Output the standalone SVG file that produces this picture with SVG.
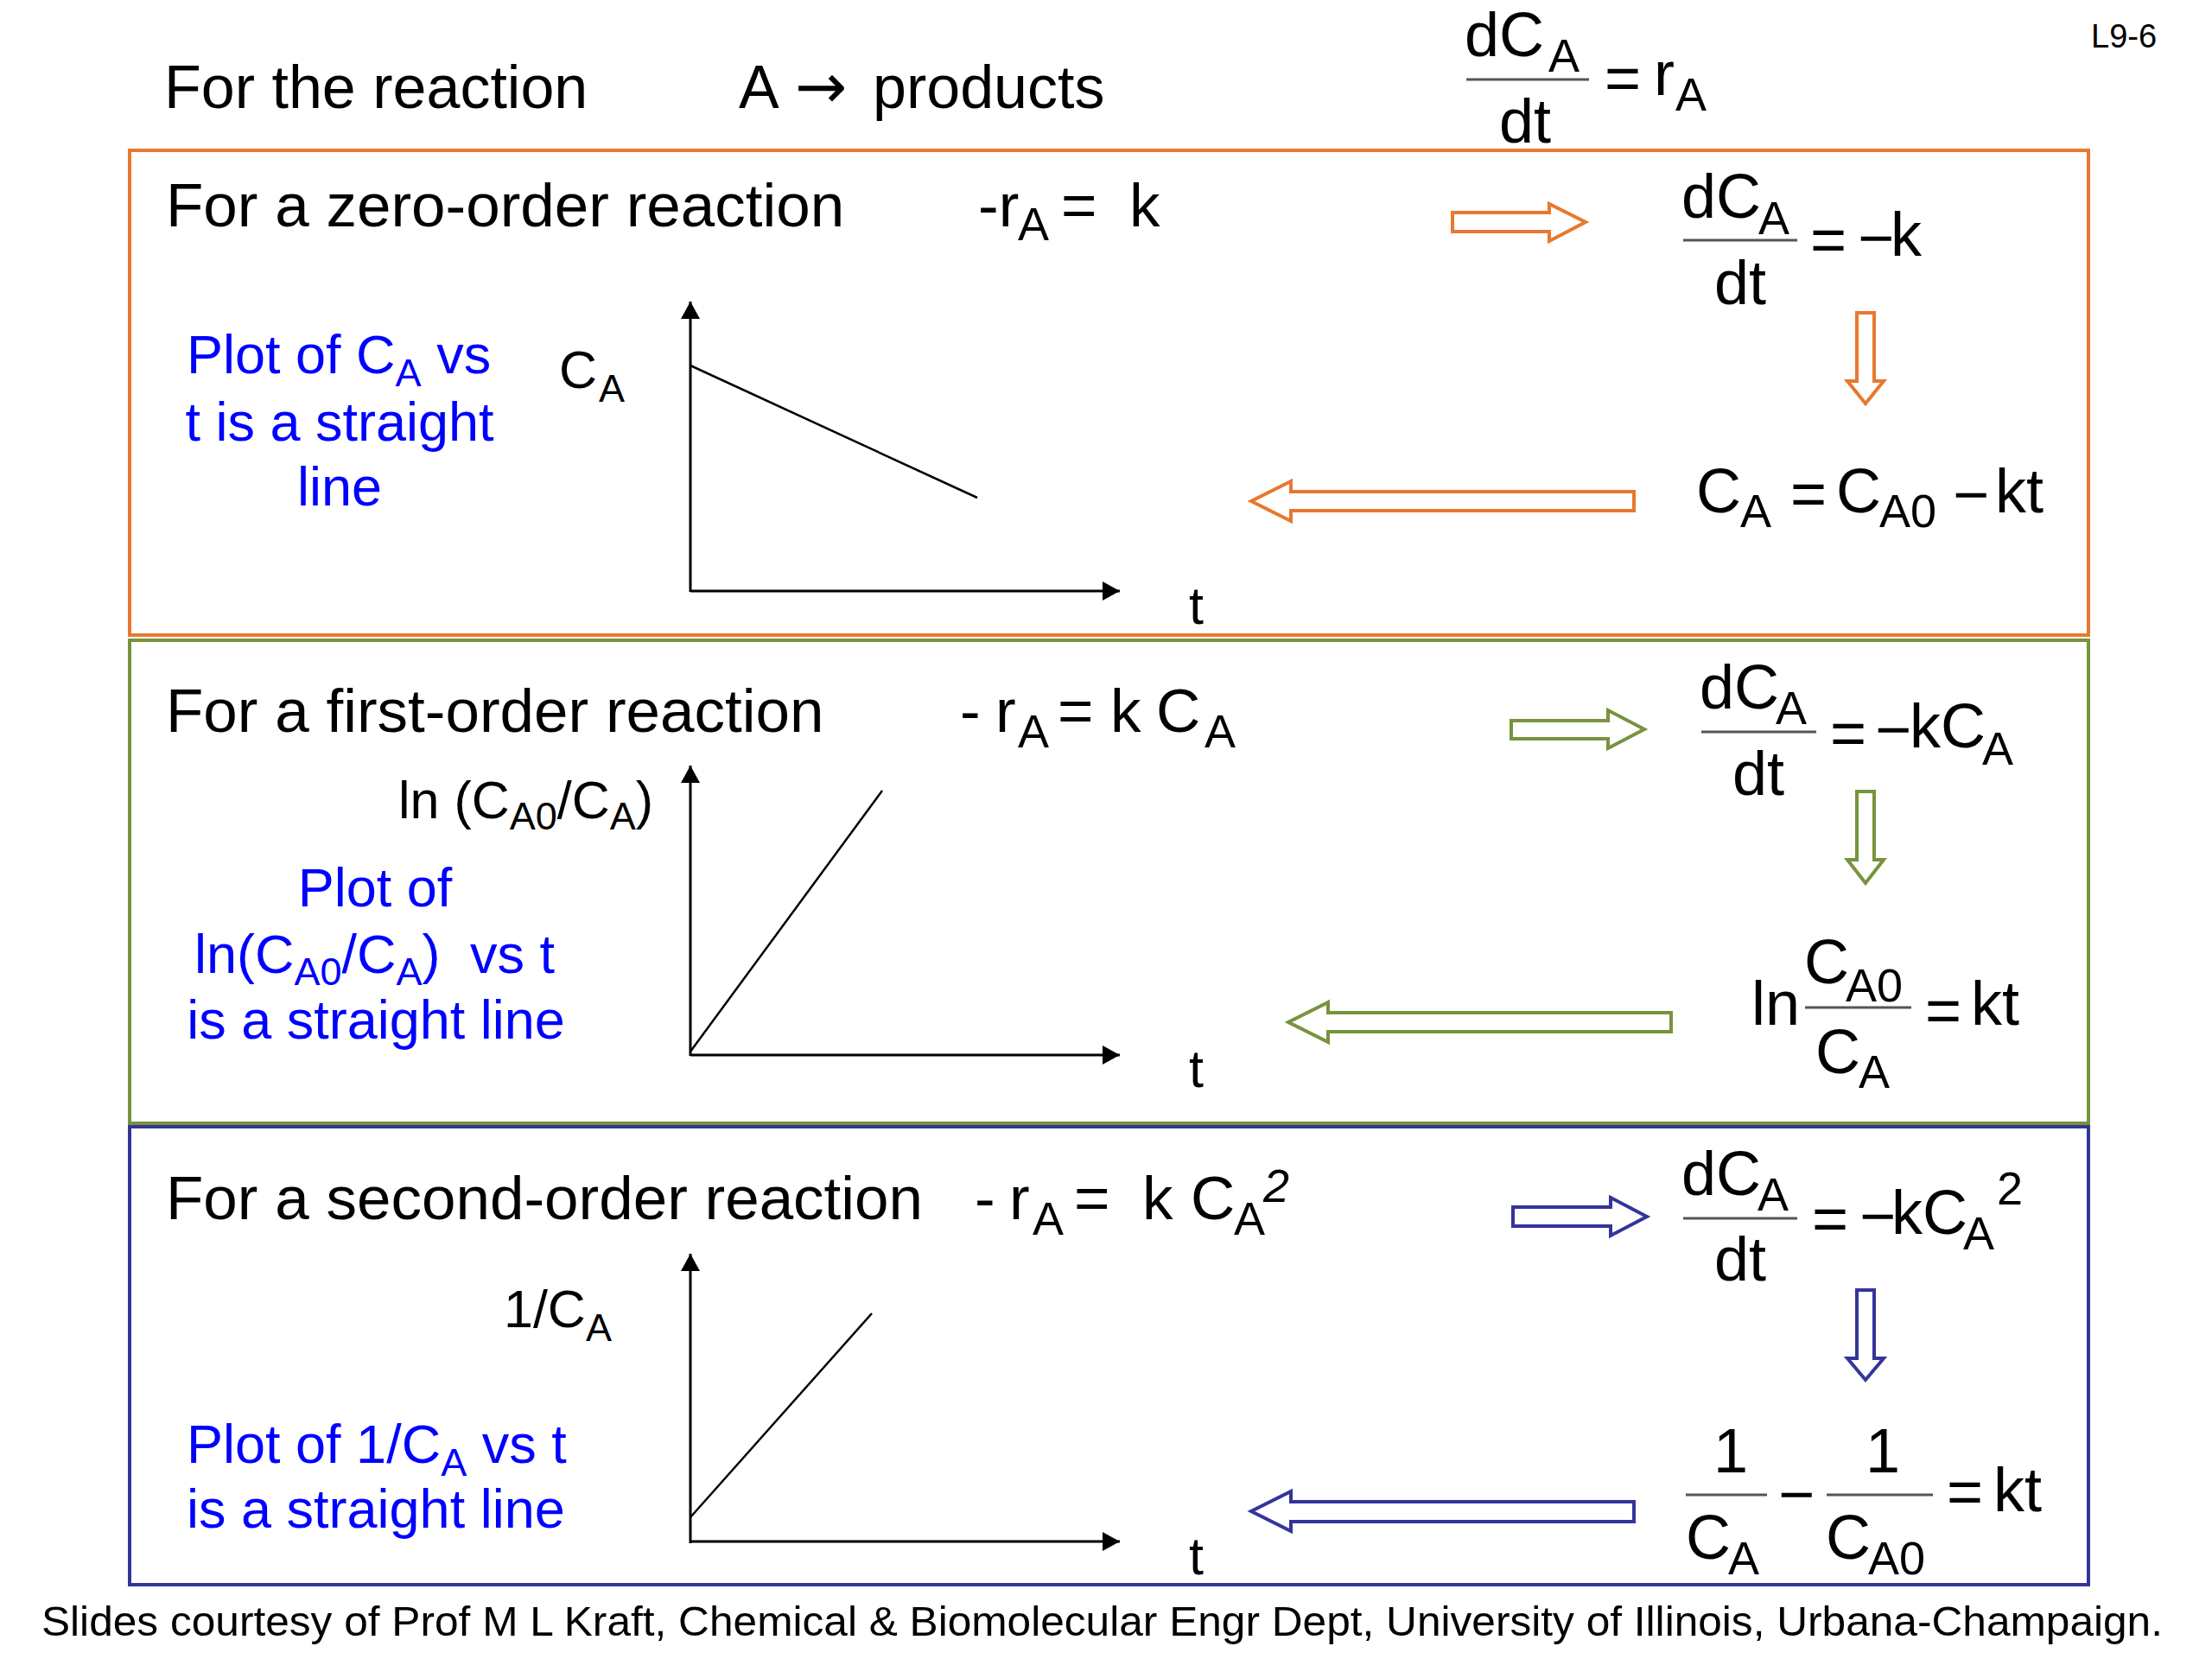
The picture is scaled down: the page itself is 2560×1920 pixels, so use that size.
<svg xmlns="http://www.w3.org/2000/svg" width="2560" height="1920" viewBox="0 0 2560 1920">
<style>
text{font-family:"Liberation Sans",Arial,Helvetica,sans-serif;fill:#000}
.h{font-size:71px}
.m{font-size:72px}
.s{font-size:54px}
.ax{font-size:61px}
.axs{font-size:45px}
.b{font-size:63px;fill:#0000FF}
.bs{font-size:45px;fill:#0000FF}
.frac{stroke:#555;stroke-width:3}
.axis{stroke:#000;stroke-width:3;fill:none}
.data{stroke:#000;stroke-width:2.5;fill:none}
.box{fill:none;stroke-width:4}
.arw{fill:#fff;stroke-width:4;stroke-linejoin:miter}
.or{stroke:#E8782F}
.gr{stroke:#77933C}
.bl{stroke:#34349A}
</style>
<defs>
<marker id="ah" markerUnits="userSpaceOnUse" markerWidth="22" markerHeight="24" refX="20" refY="12" orient="auto">
<path d="M0,1 L20,12 L0,23 z" fill="#000"/>
</marker>
</defs>
<rect width="2560" height="1920" fill="#fff"/>

<g id="header">
<text class="h" x="190" y="125" style="font-size:70px">For the reaction</text>
<text class="h" x="855" y="125" style="font-size:70px">A</text>
<text x="920" y="125" style="font-family:'DejaVu Sans',sans-serif;font-size:72px">→</text>
<text class="h" x="1010" y="125" style="font-size:70px">products</text>
<text x="2420" y="55" style="font-size:38px">L9-6</text>
</g>

<g id="general-rate-eq">
<text class="m" x="1695" y="65">dC</text>
<text class="s" x="1792" y="83">A</text>
<line class="frac" x1="1697" y1="92" x2="1839" y2="92"/>
<text class="m" x="1735" y="165">dt</text>
<text class="m" x="1857" y="115">=</text>
<text class="m" x="1914" y="110">r</text>
<text class="s" x="1939" y="128">A</text>
</g>

<g id="zero-order">
<rect class="box or" x="150" y="174" width="2267" height="561"/>
<text class="h" x="192" y="262">For a zero-order reaction</text>
<text class="h" x="1132" y="262">-r</text>
<text class="s" x="1178" y="278">A</text>
<text class="h" x="1228" y="262">=</text>
<text class="h" x="1307" y="262">k</text>
<g id="zero-rate">
<text class="m" x="1946" y="252">dC</text>
<text class="s" x="2035" y="271">A</text>
<line class="frac" x1="1948" y1="278" x2="2080" y2="278"/>
<text class="m" x="1984" y="352">dt</text>
<text class="m" x="2095" y="302">=</text>
<text class="m" x="2150" y="300">−</text>
<text class="m" x="2188" y="296">k</text>
</g>
<g id="zero-integrated">
<text class="m" x="1963" y="593">C</text>
<text class="s" x="2014" y="610">A</text>
<text class="m" x="2072" y="596">=</text>
<text class="m" x="2125" y="593">C</text>
<text class="s" x="2175" y="610">A0</text>
<text class="m" x="2260" y="597">−</text>
<text class="m" x="2309" y="593">kt</text>
</g>
<g id="zero-plot">
<line class="axis" x1="799" y1="685" x2="799" y2="349" marker-end="url(#ah)"/>
<line class="axis" x1="799" y1="684" x2="1296" y2="684" marker-end="url(#ah)"/>
<line class="data" x1="799" y1="423" x2="1131" y2="576"/>
<text class="ax" x="647" y="449">C</text>
<text class="axs" x="693" y="465">A</text>
<text class="ax" x="1376" y="722">t</text>
</g>
<g id="zero-note">
<text class="b" x="216" y="432">Plot of C<tspan class="bs" dy="15">A</tspan><tspan dy="-15"> vs</tspan></text>
<text class="b" x="393" y="510" text-anchor="middle">t is a straight</text>
<text class="b" x="393" y="585" text-anchor="middle">line</text>
</g>
</g>

<g id="first-order">
<rect class="box gr" x="150" y="741" width="2267" height="559"/>
<text class="h" x="192" y="847">For a first-order reaction</text>
<text class="h" x="1111" y="847">-</text>
<text class="h" x="1152" y="847">r</text>
<text class="s" x="1178" y="865">A</text>
<text class="h" x="1224" y="847">=</text>
<text class="h" x="1285" y="847">k</text>
<text class="h" x="1338" y="847">C</text>
<text class="s" x="1394" y="865">A</text>
<g id="first-rate">
<text class="m" x="1967" y="820">dC</text>
<text class="s" x="2055" y="838">A</text>
<line class="frac" x1="1969" y1="847" x2="2102" y2="847"/>
<text class="m" x="2005" y="920">dt</text>
<text class="m" x="2118" y="873">=</text>
<text class="m" x="2170" y="869">−</text>
<text class="m" x="2210" y="865">kC</text>
<text class="s" x="2294" y="885">A</text>
</g>
<g id="first-integrated">
<text class="m" x="2027" y="1186">ln</text>
<text class="m" x="2088" y="1138">C</text>
<text class="s" x="2136" y="1159">A0</text>
<line class="frac" x1="2089" y1="1166" x2="2212" y2="1166"/>
<text class="m" x="2101" y="1242">C</text>
<text class="s" x="2151" y="1259">A</text>
<text class="m" x="2228" y="1194">=</text>
<text class="m" x="2281" y="1186">kt</text>
</g>
<g id="first-plot">
<line class="axis" x1="799" y1="1222" x2="799" y2="886" marker-end="url(#ah)"/>
<line class="axis" x1="799" y1="1221" x2="1296" y2="1221" marker-end="url(#ah)"/>
<line class="data" x1="799" y1="1217" x2="1021" y2="915"/>
<text class="ax" x="461" y="947">ln (C<tspan class="axs" dy="13">A0</tspan><tspan dy="-13">/C</tspan><tspan class="axs" dy="13">A</tspan><tspan dy="-13">)</tspan></text>
<text class="ax" x="1376" y="1258">t</text>
</g>
<g id="first-note">
<text class="b" x="434" y="1049" text-anchor="middle">Plot of</text>
<text class="b" x="225" y="1126">ln(C<tspan class="bs" dy="14">A0</tspan><tspan dy="-14">/C</tspan><tspan class="bs" dy="14">A</tspan><tspan dy="-14">)</tspan><tspan x="544">vs t</tspan></text>
<text class="b" x="435" y="1202" text-anchor="middle">is a straight line</text>
</g>
</g>

<g id="second-order">
<rect class="box bl" x="150" y="1304" width="2267" height="530"/>
<text class="h" x="192" y="1411">For a second-order reaction</text>
<text class="h" x="1128" y="1411">-</text>
<text class="h" x="1168" y="1411">r</text>
<text class="s" x="1195" y="1429">A</text>
<text class="h" x="1243" y="1411">=</text>
<text class="h" x="1322" y="1411">k</text>
<text class="h" x="1378" y="1411">C</text>
<text class="s" x="1428" y="1429">A</text>
<text class="s" x="1462" y="1391" font-style="italic">2</text>
<g id="second-rate">
<text class="m" x="1946" y="1383">dC</text>
<text class="s" x="2034" y="1401">A</text>
<line class="frac" x1="1948" y1="1410" x2="2080" y2="1410"/>
<text class="m" x="1984" y="1482">dt</text>
<text class="m" x="2097" y="1435">=</text>
<text class="m" x="2152" y="1432">−</text>
<text class="m" x="2189" y="1428">kC</text>
<text class="s" x="2272" y="1446">A</text>
<text class="s" x="2311" y="1394">2</text>
</g>
<g id="second-integrated">
<text class="m" x="1983" y="1704">1</text>
<line class="frac" x1="1951" y1="1730" x2="2045" y2="1730"/>
<text class="m" x="1951" y="1804">C</text>
<text class="s" x="2000" y="1822">A</text>
<text class="m" x="2058" y="1754">−</text>
<text class="m" x="2159" y="1704">1</text>
<line class="frac" x1="2114" y1="1730" x2="2237" y2="1730"/>
<text class="m" x="2113" y="1804">C</text>
<text class="s" x="2162" y="1822">A0</text>
<text class="m" x="2253" y="1751">=</text>
<text class="m" x="2307" y="1749">kt</text>
</g>
<g id="second-plot">
<line class="axis" x1="799" y1="1786" x2="799" y2="1451" marker-end="url(#ah)"/>
<line class="axis" x1="799" y1="1784" x2="1296" y2="1784" marker-end="url(#ah)"/>
<line class="data" x1="799" y1="1756" x2="1009" y2="1520"/>
<text class="ax" x="583" y="1536">1/C<tspan class="axs" dy="16">A</tspan></text>
<text class="ax" x="1376" y="1822">t</text>
</g>
<g id="second-note">
<text class="b" x="216" y="1693">Plot of 1/C<tspan class="bs" dy="15">A</tspan><tspan dy="-15"> vs t</tspan></text>
<text class="b" x="216" y="1768">is a straight line</text>
</g>
</g>

<g id="connectors">
<polygon class="arw or" points="1681,246 1793,246 1793,236 1835,257 1793,279 1793,268 1681,268"/>
<polygon class="arw or" points="2149,362 2169,362 2169,441 2180,441 2159,467 2138,441 2149,441"/>
<polygon class="arw or" points="1891,569 1494,569 1494,557 1448,580 1494,603 1494,591 1891,591"/>
<polygon class="arw gr" points="1749,834 1861,834 1861,822 1903,844 1861,866 1861,855 1749,855"/>
<polygon class="arw gr" points="2149,916 2169,916 2169,995 2180,995 2159,1022 2138,995 2149,995"/>
<polygon class="arw gr" points="1934,1172 1537,1172 1537,1160 1491,1183 1537,1206 1537,1194 1934,1194"/>
<polygon class="arw bl" points="1751,1397 1864,1397 1864,1386 1906,1408 1864,1430 1864,1419 1751,1419"/>
<polygon class="arw bl" points="2149,1493 2169,1493 2169,1572 2180,1572 2159,1597 2138,1572 2149,1572"/>
<polygon class="arw bl" points="1891,1738 1494,1738 1494,1726 1448,1749 1494,1772 1494,1761 1891,1761"/>
</g>

<g id="footer">
<text x="48" y="1893" style="font-size:48px" textLength="2455" lengthAdjust="spacingAndGlyphs">Slides courtesy of Prof M L Kraft, Chemical &amp; Biomolecular Engr Dept, University of Illinois, Urbana-Champaign.</text>
</g>
</svg>
